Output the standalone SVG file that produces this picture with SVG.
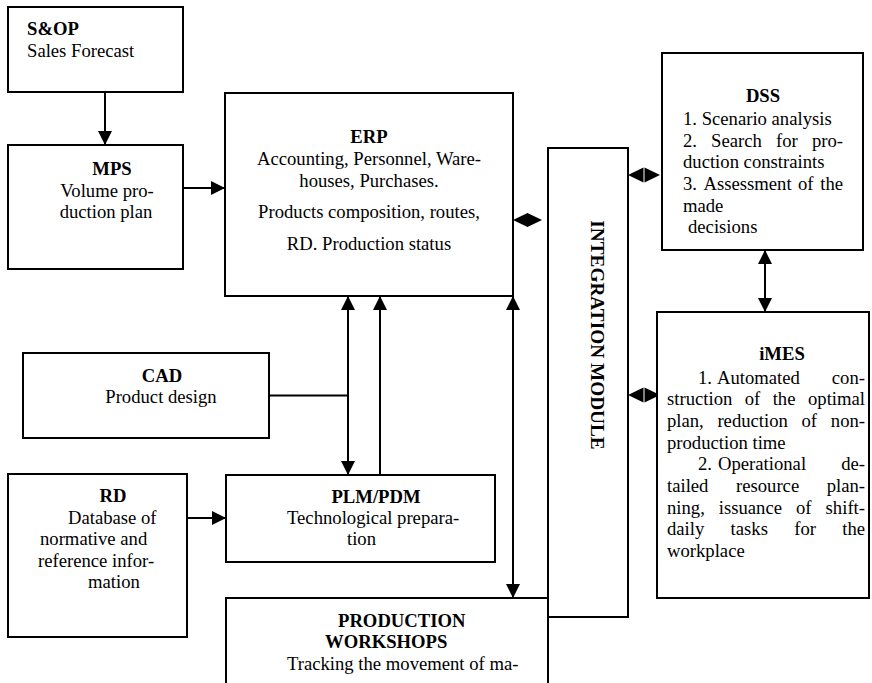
<svg xmlns="http://www.w3.org/2000/svg" width="872" height="683" viewBox="0 0 872 683">
  <style>
    .box { fill: #ffffff; stroke: #000000; stroke-width: 2; }
    .t { font-family: "Liberation Serif", "Times New Roman", serif; font-size: 18.67px; fill: #000000; }
    .b { font-weight: bold; }
    .m { text-anchor: middle; }
    .e { text-anchor: end; }
    .ln { fill: none; stroke: #000000; stroke-width: 2; }
    .arr { marker-end: url(#ah); }
    .arr2 { marker-start: url(#ah); marker-end: url(#ah); }
  </style>
  <defs>
    <marker id="ah" viewBox="0 0 14 14" refX="14" refY="7" markerWidth="14" markerHeight="14" markerUnits="userSpaceOnUse" orient="auto-start-reverse">
      <path d="M0,0 L14,7 L0,14 z" fill="#000000"/>
    </marker>
  </defs>

  <rect width="872" height="683" fill="#ffffff"/>

  <!-- connectors -->
  <g id="connectors">
    <path class="ln arr" d="M105,92 V145"/>
    <path class="ln arr" d="M183,188 H225"/>
    <path class="ln arr2" d="M348,296 V475"/>
    <path class="ln arr" d="M380,475 V296"/>
    <path class="ln" d="M269,395.5 H348"/>
    <path class="ln arr" d="M187,518 H226"/>
    <path class="ln arr2" d="M513,296 V598"/>
    <path class="ln arr2" d="M765,250 V312"/>
    <!-- ERP / integration module link -->
    <polygon points="513,220 527.5,213 542,220 527.5,227" fill="#000000"/>
    <!-- integration module / DSS link -->
    <polygon points="628,175 643.5,167.5 643.5,182.5" fill="#000000"/>
    <polygon points="660,175 644.5,167.5 644.5,182.5" fill="#000000"/>
    <!-- integration module / iMES link -->
    <polygon points="628,395 643.5,387.5 643.5,402.5" fill="#000000"/>
    <polygon points="660,395 644.5,387.5 644.5,402.5" fill="#000000"/>
  </g>

  <g id="sop">
    <rect class="box" x="8" y="7" width="175" height="85"/>
    <text class="t b" x="27" y="35">S&amp;OP</text>
    <text class="t" x="27" y="57">Sales Forecast</text>
  </g>

  <g id="mps">
    <rect class="box" x="8" y="145" width="175" height="124"/>
    <text class="t b m" x="112" y="175">MPS</text>
    <text class="t m" x="107" y="196.5">Volume pro-</text>
    <text class="t m" x="106" y="218">duction plan</text>
  </g>

  <g id="erp">
    <rect class="box" x="225" y="93" width="288" height="203"/>
    <text class="t b m" x="369" y="143">ERP</text>
    <text class="t m" x="369" y="165">Accounting, Personnel, Ware-</text>
    <text class="t m" x="369" y="187">houses, Purchases.</text>
    <text class="t m" x="369" y="218">Products composition, routes,</text>
    <text class="t m" x="369" y="250">RD. Production status</text>
  </g>

  <g id="integration">
    <rect class="box" x="548" y="148" width="80" height="469"/>
    <text class="t b m" style="font-size:19.3px" transform="translate(590.5,335) rotate(90)">INTEGRATION MODULE</text>
  </g>

  <g id="dss">
    <rect class="box" x="662" y="53" width="201" height="197"/>
    <text class="t b m" x="763" y="102">DSS</text>
    <text class="t" x="683" y="125">1. Scenario analysis</text>
    <text class="t" y="146.7"><tspan x="683">2.</tspan><tspan x="711">Search</tspan><tspan x="776">for</tspan><tspan x="843" class="e">pro-</tspan></text>
    <text class="t" x="683" y="168.4">duction constraints</text>
    <text class="t" y="190"><tspan x="683">3.</tspan><tspan x="703.5">Assessment</tspan><tspan x="798">of</tspan><tspan x="843" class="e">the</tspan></text>
    <text class="t" x="683" y="211.7">made</text>
    <text class="t" x="688" y="233.4">decisions</text>
  </g>

  <g id="imes">
    <rect class="box" x="657" y="312" width="212" height="286"/>
    <text class="t b m" x="782" y="360">iMES</text>
    <text class="t" y="383.5"><tspan x="698">1.</tspan><tspan x="717">Automated</tspan><tspan x="865" class="e">con-</tspan></text>
    <text class="t" y="405.2"><tspan x="667">struction</tspan><tspan x="744.7">of</tspan><tspan x="772.7">the</tspan><tspan x="865" class="e">optimal</tspan></text>
    <text class="t" y="426.9"><tspan x="667">plan,</tspan><tspan x="717.4">reduction</tspan><tspan x="801.5">of</tspan><tspan x="865" class="e">non-</tspan></text>
    <text class="t" x="667" y="448.6">production time</text>
    <text class="t" y="470.3"><tspan x="698">2.</tspan><tspan x="718">Operational</tspan><tspan x="865" class="e">de-</tspan></text>
    <text class="t" y="492"><tspan x="667">tailed</tspan><tspan x="736">resource</tspan><tspan x="865" class="e">plan-</tspan></text>
    <text class="t" y="513.7"><tspan x="667">ning,</tspan><tspan x="718.8">issuance</tspan><tspan x="796">of</tspan><tspan x="865" class="e">shift-</tspan></text>
    <text class="t" y="535.4"><tspan x="667">daily</tspan><tspan x="730.6">tasks</tspan><tspan x="794.2">for</tspan><tspan x="865" class="e">the</tspan></text>
    <text class="t" x="667" y="557.1">workplace</text>
  </g>

  <g id="cad">
    <rect class="box" x="23" y="353" width="246" height="85"/>
    <text class="t b m" x="162" y="382">CAD</text>
    <text class="t m" x="161" y="403">Product design</text>
  </g>

  <g id="rd">
    <rect class="box" x="8" y="474" width="179" height="163"/>
    <text class="t b m" x="113" y="502">RD</text>
    <text class="t" x="68" y="523.5">Database of</text>
    <text class="t" x="40" y="545">normative and</text>
    <text class="t" x="38" y="566.5">reference infor-</text>
    <text class="t" x="88" y="588">mation</text>
  </g>

  <g id="plm">
    <rect class="box" x="226" y="475" width="269" height="87"/>
    <text class="t b m" x="376" y="503">PLM/PDM</text>
    <text class="t" x="287" y="523.5">Technological prepara-</text>
    <text class="t" x="347" y="545">tion</text>
  </g>

  <g id="workshops">
    <rect class="box" x="226" y="598" width="322" height="100"/>
    <text class="t b" x="338" y="627">PRODUCTION</text>
    <text class="t b" x="325" y="648">WORKSHOPS</text>
    <text class="t" x="287" y="670">Tracking the movement of ma-</text>
  </g>
</svg>
